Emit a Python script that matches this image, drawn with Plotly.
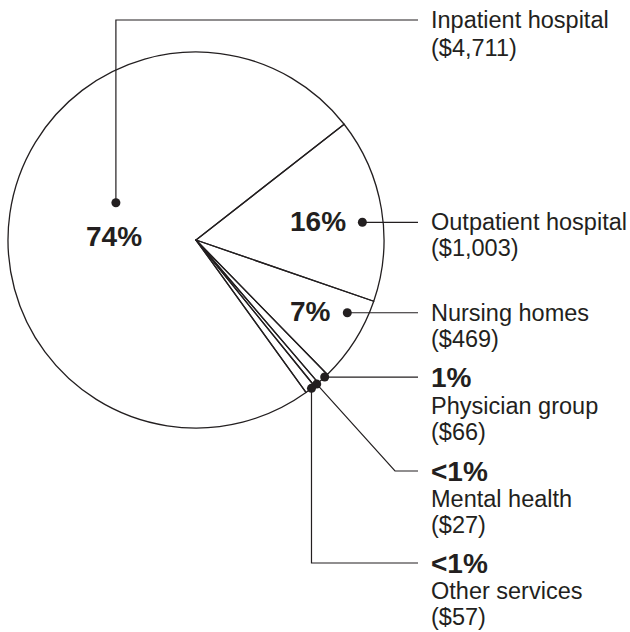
import math
import plotly.graph_objects as go

# ── Data ─────────────────────────────────────────────────────────────────
NAMES = ["Outpatient hospital", "Nursing homes", "Physician group",
         "Mental health", "Other services", "Inpatient hospital"]
VALUES = [1003, 469, 66, 27, 57, 4711]
PCT_LABELS = ["16%", "7%", "1%", "<1%", "<1%", "74%"]

# ── Style / layout ───────────────────────────────────────────────────────
W, H = 630, 632
CX, CY, R = 196, 240, 188          # pie centre and radius in pixels
ROTATION = 52                      # first slice starts here (deg, clockwise from 12 o'clock)
INK = "#231f20"
FONT = "Liberation Sans, Arial, Helvetica, sans-serif"
TXT = 23.5                         # regular label size
BIG = 28                           # bold percent size
TEXT_X = 429                       # left edge of the right-hand labels
LEAD_END = 418                     # leader lines stop here

# where the dot sits inside each slice: (fraction of slice angle, fraction of radius)
ANCHORS = [(0.56, 0.89), (0.25, 0.893), (0.3, 1.0), (0.4, 1.0), (0.35, 1.0), (0.563, 0.47)]

total = sum(VALUES)
dots = []
a = ROTATION
for v, (f, rf) in zip(VALUES, ANCHORS):
    span = v / total * 360
    th = math.radians(a + f * span)
    dots.append((CX + rf * R * math.sin(th), CY - rf * R * math.cos(th)))
    a += span

fig = go.Figure()
fig.add_trace(go.Pie(
    labels=NAMES, values=VALUES, sort=False, direction="clockwise",
    rotation=ROTATION, textinfo="none", hoverinfo="skip", showlegend=False,
    marker=dict(colors=["rgba(0,0,0,0)"] * len(VALUES), line=dict(color=INK, width=1.3)),
    domain=dict(x=[(CX - R) / W, (CX + R) / W], y=[1 - (CY + R) / H, 1 - (CY - R) / H]),
))


def line(xs, ys):
    fig.add_trace(go.Scatter(x=xs, y=ys, mode="lines", line=dict(color=INK, width=1.2),
                             hoverinfo="skip", showlegend=False))


def text(x, y, s, size=TXT, bold=False, anchor="left"):
    fig.add_annotation(x=x, y=y, xref="x", yref="y", text=f"<b>{s}</b>" if bold else s,
                       showarrow=False, xanchor=anchor, yanchor="middle",
                       font=dict(family=FONT, size=size, color=INK))


val_labels = [f"(${v:,})" for v in VALUES]

# Outpatient, Nursing: horizontal leaders, percent inside pie
for i in (0, 1):
    x, y = dots[i]
    line([x, LEAD_END], [y, y])
    text(x - 14, y - 1, PCT_LABELS[i], size=BIG, bold=True, anchor="right")
    text(TEXT_X, y, NAMES[i])
    text(TEXT_X, y + 26, val_labels[i])

# Physician group: horizontal leader
x, y = dots[2]
line([x, LEAD_END], [y, y])
text(TEXT_X, y, PCT_LABELS[2], size=BIG, bold=True)
text(TEXT_X, y + 29, NAMES[2])
text(TEXT_X, y + 55, val_labels[2])

# Mental health: diagonal then horizontal
x, y = dots[3]
ly = 471
line([x, 395, LEAD_END], [y, ly, ly])
text(TEXT_X, ly, PCT_LABELS[3], size=BIG, bold=True)
text(TEXT_X, ly + 28, NAMES[3])
text(TEXT_X, ly + 54, val_labels[3])

# Other services: down then right
x, y = dots[4]
ly = 563
line([x, x, LEAD_END], [y, ly, ly])
text(TEXT_X, ly, PCT_LABELS[4], size=BIG, bold=True)
text(TEXT_X, ly + 28, NAMES[4])
text(TEXT_X, ly + 54, val_labels[4])

# Inpatient: up then right, percent under the dot
x, y = dots[5]
ly = 20
line([x, x, LEAD_END], [y, ly, ly])
text(x - 2, y + 34, PCT_LABELS[5], size=BIG, bold=True, anchor="center")
text(TEXT_X, ly, NAMES[5])
text(TEXT_X, ly + 28, val_labels[5])

# dots
fig.add_trace(go.Scatter(x=[d[0] for d in dots], y=[d[1] for d in dots], mode="markers",
                         marker=dict(color=INK, size=9), hoverinfo="skip", showlegend=False))

fig.update_layout(
    width=W, height=H, margin=dict(l=0, r=0, t=0, b=0),
    paper_bgcolor="white", plot_bgcolor="rgba(0,0,0,0)",
    xaxis=dict(range=[0, W], visible=False, fixedrange=True),
    yaxis=dict(range=[H, 0], visible=False, fixedrange=True),
)
# drop the default 8px body margin so the 630x632 figure fills the window exactly
fig.write_html("out.html", config={"displayModeBar": False},
               post_script="document.body.style.margin = '0';")
